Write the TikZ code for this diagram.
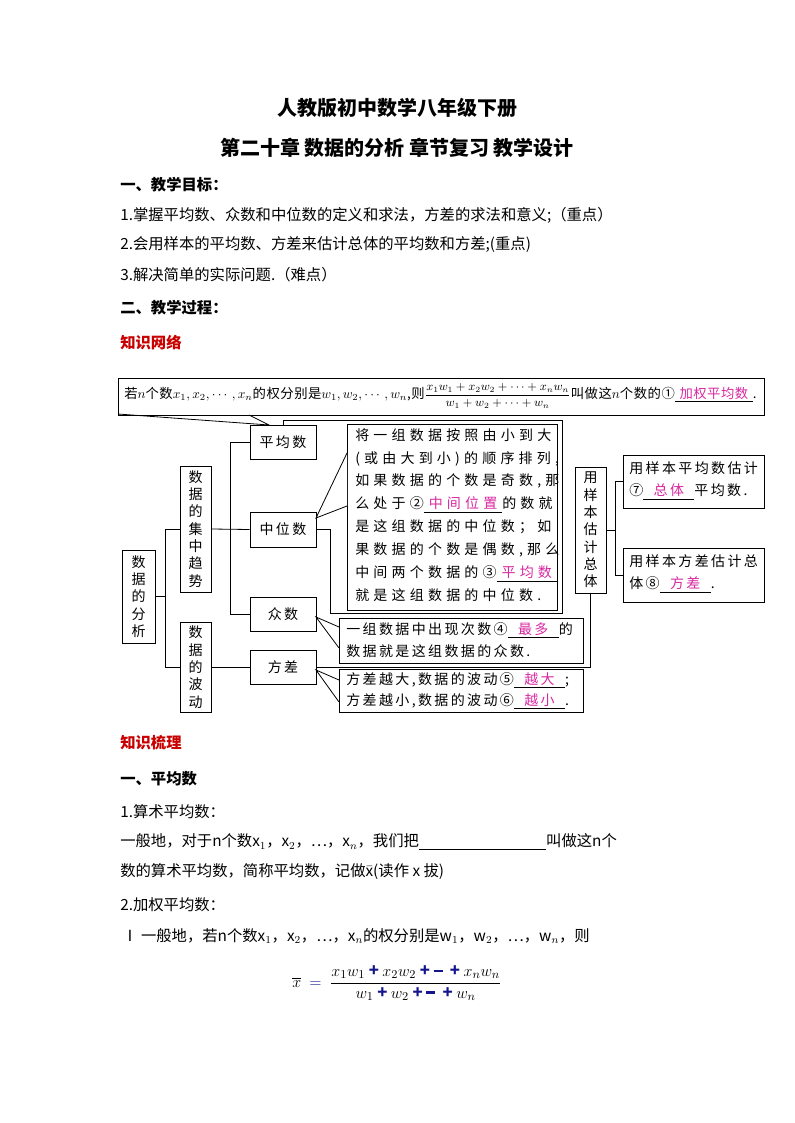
\documentclass[tikz,border=0pt]{standalone}
\usepackage{amsmath}
\usepackage{fontspec}
\setmainfont{Noto Sans CJK SC}
\newfontfamily\dfont[LetterSpace=17]{Noto Sans CJK SC}
\newfontfamily\mfont[LetterSpace=30]{Noto Sans CJK SC}
\newfontfamily\tfont[LetterSpace=4]{Noto Sans CJK SC}
\definecolor{mag}{RGB}{215,40,160}
\definecolor{hred}{RGB}{200,0,0}
\definecolor{navy}{RGB}{20,20,140}
\newcommand\fillin[1]{\underline{\hspace{0.35em}\textcolor{mag}{#1}\hspace{0.35em}}}
\newcommand\bpl{\mathbin{\textcolor{navy}{\text{\bfseries +}}}}
\newcommand\bmi{\textcolor{navy}{\rule[0.5ex]{0.55em}{1.6pt}}}
\begin{document}
\begin{tikzpicture}[x=0.75pt,y=-0.75pt,
  body/.style={anchor=west,inner sep=0,font=\fontsize{11.5}{14}\selectfont},
  bhead/.style={body,font=\fontsize{11.5}{14}\selectfont\bfseries},
  ttl/.style={inner sep=0,font=\fontsize{15}{18}\selectfont\bfseries},
  bx/.style={draw,line width=0.6pt,inner sep=0,font=\dfont\fontsize{10.5}{13}\selectfont},
  vbx/.style={bx,align=center},
  ln/.style={line width=0.6pt}]
\useasboundingbox (0,0) rectangle (794,1123);
\newcommand\bxx[6]{\node[#1,minimum width={(#4-#2)*0.75pt},minimum height={(#5-#3)*0.75pt}] (#6) at ({(#2+#4)/2},{(#3+#5)/2})}
% titles
\node[ttl] (t1) at (397,108) {人教版初中数学八年级下册};
\node[ttl] (t2) at (397,148) {第二十章\ 数据的分析\ 章节复习\ 教学设计};
\node[bhead] (h1) at (120,185) {一、教学目标：};
\node[body] (g1) at (120,215) {1.掌握平均数、众数和中位数的定义和求法，方差的求法和意义;（重点）};
\node[body] (g2) at (120,245) {2.会用样本的平均数、方差来估计总体的平均数和方差;(重点)};
\node[body] (g3) at (120,275) {3.解决简单的实际问题.（难点）};
\node[bhead] (h2) at (120,308) {二、教学过程：};
\node[bhead,text=hred] (h3) at (120,343) {知识网络};
% diagram boxes
\bxx{bx}{118}{378}{764}{415}{top} {};
\node[anchor=west,inner sep=0,font=\tfont\fontsize{10}{12}\selectfont] (toptxt) at (124,396) {若$n$个数$x_1,x_2,\cdots,x_n$的权分别是$w_1,w_2,\cdots,w_n$,则{\fontsize{9}{10}\selectfont$\dfrac{x_1w_1+x_2w_2+\cdots+x_nw_n}{w_1+w_2+\cdots+w_n}$}叫做这$n$个数的①\fillin{加权平均数}.};
\bxx{bx}{250}{425}{316}{459}{pjs} {平均数};
\bxx{bx}{250}{512}{316}{547}{zws} {中位数};
\bxx{bx}{250}{597}{316}{631}{zs} {众数};
\bxx{bx}{250}{650}{316}{684}{fc} {方差};
\bxx{bx}{347}{424}{557}{610}{mbox} {};
\node[anchor=north west,inner sep=0,align=left,font=\mfont\fontsize{10.5}{17.2}\selectfont] (mtxt) at (355,428) {将一组数据按照由小到大\\(或由大到小)的顺序排列,\\如果数据的个数是奇数,那\\么处于②\fillin{中间位置}的数就\\是这组数据的中位数；如\\果数据的个数是偶数,那么\\中间两个数据的③\fillin{平均数}\\就是这组数据的中位数.};
\bxx{vbx}{180}{466}{211}{592}{jz} {\fontsize{10.5}{15.6}\selectfont 数\\据\\的\\集\\中\\趋\\势};
\bxx{vbx}{180}{622}{211}{712}{bd} {\fontsize{10.5}{13.5}\selectfont 数\\据\\的\\波\\动};
\bxx{vbx}{122}{550}{155}{643}{fx} {\fontsize{10.5}{13.5}\selectfont 数\\据\\的\\分\\析};
\bxx{vbx}{575}{467}{606}{593}{yb} {\fontsize{10.5}{13.5}\selectfont 用\\样\\本\\估\\计\\总\\体};
\bxx{bx}{623}{455}{764}{508}{ypj} {};
\node[anchor=north west,inner sep=0,align=left,font=\dfont\fontsize{10.5}{17}\selectfont] (ypjt) at (629,461) {用样本平均数估计\\⑦\fillin{\ 总体\ }平均数.};
\bxx{bx}{623}{548}{764}{602}{yfc} {};
\node[anchor=north west,inner sep=0,align=left,font=\dfont\fontsize{10.5}{17}\selectfont] (yfct) at (629,554) {用样本方差估计总\\体⑧\fillin{\ 方差\ }.};
\bxx{bx}{339}{618}{583}{663}{zsd} {};
\node[anchor=north west,inner sep=0,align=left,font=\dfont\fontsize{10.5}{17}\selectfont] (zsdt) at (346,622) {一组数据中出现次数④\fillin{\ 最多\ }的\\数据就是这组数据的众数.};
\bxx{bx}{339}{669}{583}{712}{fcd} {};
\node[anchor=north west,inner sep=0,align=left,font=\dfont\fontsize{10.5}{16}\selectfont] (fcdt) at (346,672) {方差越大,数据的波动⑤\fillin{\ 越大\ };\\方差越小,数据的波动⑥\fillin{\ 越小\ }.};
% callouts
\coordinate (c1) at (118,414); \coordinate (c2) at (249,415); \coordinate (c3) at (269,425);
\draw[ln] (c1) -- (c3) -- (c2);
\coordinate (m1) at (347,453); \coordinate (m2) at (347,506); \coordinate (m3) at (316,518);
\draw[ln,fill=white] (m1) -- (m3) -- (m2);
\coordinate (z1) at (339,627); \coordinate (z2) at (339,648); \coordinate (z3) at (316,617);
\draw[ln] (z1) -- (z3) -- (z2);
\coordinate (f1) at (339,680); \coordinate (f2) at (339,702); \coordinate (f3) at (316,670);
\draw[ln] (f1) -- (f3) -- (f2);
% tree connectors
\coordinate (xa) at (230,0); \coordinate (xb) at (165,0); \coordinate (xc) at (615,0);
\draw[ln] (pjs.west) -| (xa |- zs.west) -- (zs.west);
\draw[ln] (jz.east) -- (zws.west);
\draw[ln] (jz.west) -| (xb |- bd.west) -- (bd.west);
\draw[ln] (fx.east) -- (xb |- fx.east);
\draw[ln] (bd.east) -- (fc.west);
\draw[ln] (fc.east) -| (yb.south);
\draw[ln] (yb.east) -- (xc |- yb.east);
\draw[ln] (ypj.west) -| (xc |- yfc.west) -- (yfc.west);
\coordinate (fr1) at (330,613); \coordinate (fr2) at (562,420);
\draw[ln] (zws.east) -| (fr1) -| (fr2) -| (pjs.north);
% lower text
\node[bhead,text=hred] (h4) at (120,743) {知识梳理};
\node[bhead] (h5) at (120,779) {一、平均数};
\node[body] (b1) at (120,812) {1.算术平均数：};
\node[body] (b2) at (120,842) {一般地，对于n个数x$_1$，x$_2$，…，x$_n$，我们把\underline{\makebox[8.3em]{}}叫做这n个};
\node[body] (b3) at (120,872) {数的算术平均数，简称平均数，记做$\bar{\mathrm{x}}$(读作 x 拔)};
\node[body] (b4) at (120,905) {2.加权平均数：};
\node[body] (b5) at (122,936) {Ⅰ 一般地，若n个数x$_1$，x$_2$，…，x$_n$的权分别是w$_1$，w$_2$，…，w$_n$，则};
\node[inner sep=0,font=\fontsize{12.5}{15}\selectfont] (fm) at (397,983) {$\overline{x}\ \mathrel{\textcolor{navy}{\mathbf{=}}}\ \dfrac{x_1w_1\bpl x_2w_2\bpl\bmi\ \bpl x_nw_n}{w_1\bpl w_2\bpl\bmi\ \bpl w_n}$};
\end{tikzpicture}
\end{document}
